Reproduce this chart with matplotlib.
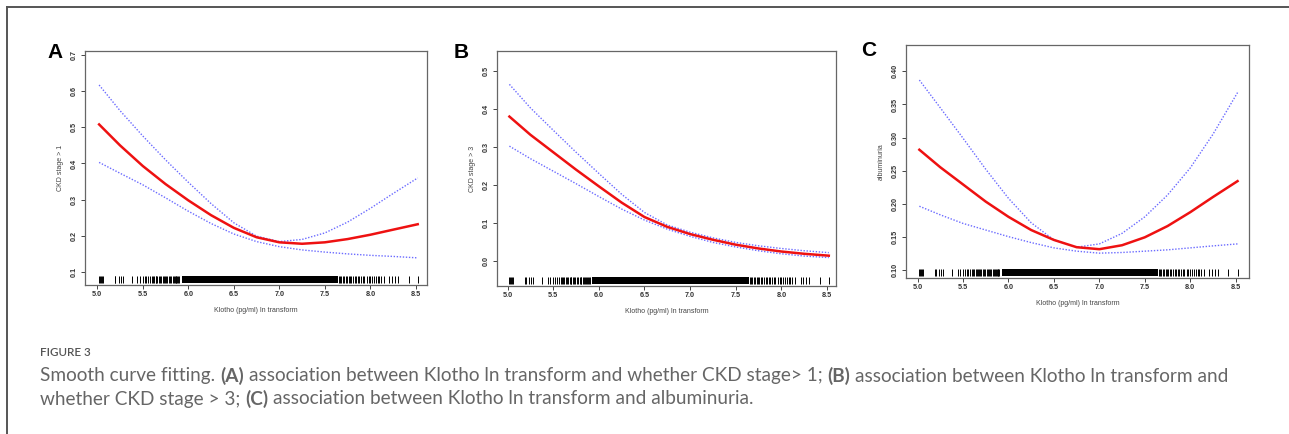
import matplotlib
matplotlib.use("Agg")
import matplotlib.pyplot as plt
from matplotlib.lines import Line2D
from matplotlib.patches import Rectangle

W, H = 1289, 434

# ---------------- data ----------------
x_grid = [5.02, 5.25, 5.5, 5.75, 6.0, 6.25, 6.5, 6.75, 7.0, 7.25, 7.5, 7.75, 8.0, 8.25, 8.52]

a_fit = [0.508, 0.450, 0.393, 0.343, 0.298, 0.257, 0.222, 0.196, 0.182, 0.178, 0.182, 0.191, 0.203, 0.217, 0.232]
a_upper = [0.617, 0.546, 0.476, 0.410, 0.348, 0.289, 0.236, 0.199, 0.184, 0.190, 0.208, 0.238, 0.276, 0.317, 0.360]
a_lower = [0.403, 0.373, 0.341, 0.305, 0.268, 0.234, 0.205, 0.184, 0.170, 0.161, 0.155, 0.150, 0.146, 0.143, 0.139]

b_fit = [0.380, 0.332, 0.286, 0.240, 0.196, 0.153, 0.115, 0.089, 0.070, 0.055, 0.042, 0.032, 0.024, 0.018, 0.013]
b_upper = [0.465, 0.403, 0.344, 0.286, 0.230, 0.175, 0.127, 0.094, 0.075, 0.060, 0.048, 0.039, 0.032, 0.026, 0.021]
b_lower = [0.302, 0.269, 0.236, 0.203, 0.169, 0.136, 0.107, 0.083, 0.064, 0.048, 0.036, 0.026, 0.018, 0.012, 0.008]

c_fit = [0.2815, 0.255, 0.229, 0.203, 0.180, 0.160, 0.145, 0.134, 0.131, 0.137, 0.149, 0.166, 0.187, 0.210, 0.234]
c_upper = [0.387, 0.345, 0.299, 0.252, 0.208, 0.171, 0.145, 0.134, 0.139, 0.155, 0.180, 0.213, 0.254, 0.305, 0.368]
c_lower = [0.196, 0.183, 0.170, 0.160, 0.150, 0.141, 0.133, 0.128, 0.125, 0.126, 0.128, 0.130, 0.133, 0.136, 0.139]

# rug: individual observations outside the dense band, plus the dense band range
rug_sparse = [5.02, 5.03, 5.04, 5.05, 5.06, 5.19, 5.20, 5.24, 5.26, 5.28, 5.38, 5.44, 5.47, 5.50,
              5.52, 5.54, 5.56, 5.58, 5.60, 5.61, 5.62, 5.64, 5.65, 5.66, 5.68, 5.69, 5.70, 5.72,
              5.73, 5.74, 5.76, 5.77, 5.79, 5.80, 5.81, 5.83, 5.84, 5.85, 5.86, 5.87, 5.88, 5.89, 5.90,
              7.66, 7.67, 7.68, 7.70, 7.71, 7.73, 7.74, 7.76, 7.78, 7.79, 7.81, 7.83, 7.84, 7.86,
              7.88, 7.90, 7.92, 7.93, 7.96, 7.98, 8.00, 8.02, 8.04, 8.06, 8.08, 8.10, 8.12, 8.15,
              8.21, 8.24, 8.27, 8.30, 8.42, 8.52]
rug_dense = (5.93, 7.645)

x_ticks = [5.0, 5.5, 6.0, 6.5, 7.0, 7.5, 8.0, 8.5]
a_yticks = [0.1, 0.2, 0.3, 0.4, 0.5, 0.6, 0.7]
b_yticks = [0.0, 0.1, 0.2, 0.3, 0.4, 0.5]
c_yticks = [0.10, 0.15, 0.20, 0.25, 0.30, 0.35, 0.40]

panels = [
    dict(letter="A", ylabel="CKD stage > 1", fit=a_fit, up=a_upper, lo=a_lower, yticks=a_yticks,
         fmt="{:.1f}", box=(85, 427, 51, 285), xlim=(4.865, 8.622), ylim=(0.064, 0.711),
         letter_xy=(55, 53)),
    dict(letter="B", ylabel="CKD stage > 3", fit=b_fit, up=b_upper, lo=b_lower, yticks=b_yticks,
         fmt="{:.1f}", box=(497, 836, 51, 286), xlim=(4.884, 8.599), ylim=(-0.067, 0.553),
         letter_xy=(461, 53)),
    dict(letter="C", ylabel="albuminuria", fit=c_fit, up=c_upper, lo=c_lower, yticks=c_yticks,
         fmt="{:.2f}", box=(906, 1249, 45, 278), xlim=(4.873, 8.646), ylim=(0.0874, 0.440),
         letter_xy=(869, 51)),
]

fig = plt.figure(figsize=(W / 100, H / 100), dpi=100)
fig.patch.set_facecolor("white")

chart_font = "Liberation Sans"
for p in panels:
    l, r, t, b = p["box"]
    ax = fig.add_axes([l / W, 1 - b / H, (r - l) / W, (b - t) / H])
    ax.plot(x_grid, p["up"], color="#6b6bff", lw=1.0, ls=(0, (1, 1.2)))
    ax.plot(x_grid, p["lo"], color="#6b6bff", lw=1.0, ls=(0, (1, 1.2)))
    ax.plot(x_grid, p["fit"], color="#ee1111", lw=1.8)
    trans = ax.get_xaxis_transform()
    ax.vlines(rug_sparse, 0.008, 0.038, transform=trans, color="black", lw=0.7)
    ax.add_patch(Rectangle((rug_dense[0], 0.008), rug_dense[1] - rug_dense[0], 0.030,
                           transform=trans, color="black", lw=0))
    ax.set_xlim(*p["xlim"])
    ax.set_ylim(*p["ylim"])
    ax.set_xticks(x_ticks)
    ax.set_xticklabels(["{:.1f}".format(v) for v in x_ticks], fontfamily=chart_font,
                       fontsize=5.2, fontweight="bold", color="#333333")
    ax.set_yticks(p["yticks"])
    ax.set_yticklabels([p["fmt"].format(v) for v in p["yticks"]], fontfamily=chart_font,
                       fontsize=5.2, fontweight="bold", color="#333333", rotation=90, va="center")
    ax.tick_params(length=3, width=0.7, color="#444444", pad=1.5)
    ax.tick_params(axis="y", pad=2)
    for s in ax.spines.values():
        s.set_color("#666666")
        s.set_linewidth(0.9)
    ax.set_xlabel("Klotho (pg/ml) ln transform", fontfamily=chart_font, fontsize=5.0,
                  color="#444444", labelpad=6)
    ax.set_ylabel(p["ylabel"], fontfamily=chart_font, fontsize=5.0, color="#444444", labelpad=5)
    lx, ly = p["letter_xy"]
    fig.text(lx / W, 1 - ly / H, p["letter"], fontfamily=chart_font, fontsize=15,
             fontweight="bold", ha="center", va="center", color="black")

# frame lines (partial box)
fig.add_artist(Line2D([7 / W, 1], [1 - 7 / H, 1 - 7 / H], color="#555555", lw=1.4))
fig.add_artist(Line2D([7 / W, 7 / W], [1 - 7 / H, 0], color="#555555", lw=1.4))

# caption
cap_font = "Lato"
cap_color = "#666666"
fig.text(40 / W, 1 - 353 / H, "FIGURE 3", fontfamily=cap_font, fontsize=8.4,
         fontweight="semibold", color="#555555", va="center")

renderer = fig.canvas.get_renderer()


def width_of(s, weight, size):
    t = fig.text(0, 0, s, fontfamily=cap_font, fontsize=size, fontweight=weight)
    w = t.get_window_extent(renderer).width
    t.remove()
    return w


def rich(x_px, y_px, parts, size):
    sp = width_of("x x", "normal", size) - width_of("xx", "normal", size)
    x = x_px
    for s, wgt in parts:
        lead = len(s) - len(s.lstrip(" "))
        trail = len(s) - len(s.rstrip(" "))
        x += lead * sp
        core = s.strip(" ")
        if core:
            t = fig.text(x / W, 1 - y_px / H, core, fontfamily=cap_font, fontsize=size,
                         fontweight=wgt, color=cap_color, va="center")
            x += t.get_window_extent(renderer).width
        x += trail * sp


cap_size = 13.7
rich(40, 376, [("Smooth curve fitting. ", "normal"), ("(A)", "bold"),
               (" association between Klotho ln transform and whether CKD stage> 1; ", "normal"),
               ("(B)", "bold"), (" association between Klotho ln transform and", "normal")], cap_size)
rich(40, 399, [("whether CKD stage > 3; ", "normal"), ("(C)", "bold"),
               (" association between Klotho ln transform and albuminuria.", "normal")], cap_size)

fig.savefig("out.png", dpi=100)
